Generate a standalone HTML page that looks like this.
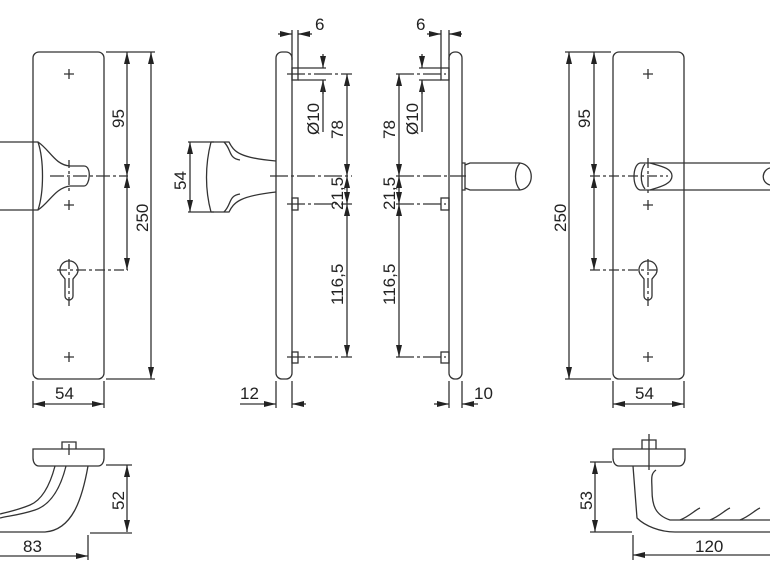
<!DOCTYPE html>
<html><head><meta charset="utf-8"><style>
html,body{margin:0;padding:0;background:#fff;}
svg{display:block;}
text{font-family:"Liberation Sans",sans-serif;font-size:17px;fill:#222;}
</style></head><body>
<svg width="770" height="578" viewBox="0 0 770 578" xmlns="http://www.w3.org/2000/svg">
<defs>
<marker id="a" viewBox="0 0 12 6" refX="12" refY="3" markerWidth="12" markerHeight="6" orient="auto-start-reverse" markerUnits="userSpaceOnUse">
<path d="M0,0 L12,3 L0,6z" fill="#222"/></marker>
</defs>
<g fill="none" stroke="#333" stroke-width="1.3">
<!-- LEFT FRONT PLATE -->
<rect x="33" y="52" width="71" height="327" rx="6"/>
<path d="M64,74h10M69,69v10 M64,205h10M69,200v10 M64,357h10M69,352v10"/>
<path d="M0,142 H38 C50,150 55,165 70,166 H84 C92,166 90,186 84,186 H70 C55,188 50,202 38,210 H0"/>
<path d="M38,142 C44,160 44,192 38,210"/>
<path d="M50,176 H128" stroke-dasharray="14,3,3,3"/>
<path d="M69,160 V192" stroke-dasharray="8,3,3,3"/>
<path d="M61,274 a9,9 0 1 1 16,0 L73,279 V296 a4,4 0 0 1 -8,0 V279 Z"/>
<path d="M69,259 V306 M57,270 H128" stroke-dasharray="10,3,3,3"/>
<path d="M106,52 H155 M106,379 H155"/>
<path d="M127,52 V176" marker-start="url(#a)" marker-end="url(#a)"/>
<path d="M127,176 V270" marker-start="url(#a)" marker-end="url(#a)"/>
<path d="M151,52 V379" marker-start="url(#a)" marker-end="url(#a)"/>
<path d="M33,381 V408 M104,381 V408"/>
<path d="M33,404 H104" marker-start="url(#a)" marker-end="url(#a)"/>

<!-- SIDE VIEW 1 -->
<rect x="276" y="52" width="16" height="327" rx="6"/>
<rect x="292" y="68" width="6" height="12"/>
<rect x="292" y="198" width="6" height="12"/>
<rect x="292" y="352" width="6" height="11"/>
<path d="M211,142 H229 C234,152 240,158 276,161 M211,212 H229 C234,202 240,196 276,192 M211,142 C205,165 205,190 211,212"/>
<path d="M224,142 C232,150 228,158 240,160 M224,212 C232,204 228,196 240,194"/>
<path d="M188,142 H214 M188,212 H214"/>
<path d="M190,142 V212" marker-start="url(#a)" marker-end="url(#a)"/>
<path d="M270,176 H352 M287,204 H352 M287,357 H352 M287,74 H352" stroke-dasharray="18,3,3,3"/>
<path d="M292,30 V60 M298,30 V68"/>
<path d="M278,34 H292" marker-end="url(#a)"/><path d="M312,34 H298" marker-end="url(#a)"/>
<path d="M298,68 H326 M298,80 H326"/>
<path d="M323,54 V68" marker-end="url(#a)"/><path d="M323,94 V80" marker-end="url(#a)"/>
<path d="M323,80 V132"/>
<path d="M347,74 V176" marker-start="url(#a)" marker-end="url(#a)"/>
<path d="M347,176 V204" marker-start="url(#a)" marker-end="url(#a)"/>
<path d="M347,204 V357" marker-start="url(#a)" marker-end="url(#a)"/>
<path d="M276,381 V408 M292,381 V408"/>
<path d="M240,404 H276" marker-end="url(#a)"/><path d="M306,404 H292" marker-end="url(#a)"/>

<!-- SIDE VIEW 2 -->
<rect x="449" y="52" width="13" height="327" rx="6"/>
<rect x="441" y="68" width="8" height="12"/>
<rect x="441" y="198" width="8" height="12"/>
<rect x="441" y="352" width="8" height="11"/>
<path d="M462,163 H465 V190 H462 M465,165 L470,163 H520 C535,165 535,188 520,190 H470 L465,188"/>
<path d="M520,163 C514,170 514,183 520,190"/>
<path d="M396,176 H466 M396,204 H446 M396,357 H446 M396,74 H446" stroke-dasharray="18,3,3,3"/>
<path d="M441,30 V68 M449,30 V60"/>
<path d="M427,34 H441" marker-end="url(#a)"/><path d="M462,34 H449" marker-end="url(#a)"/>
<path d="M419,68 H441 M419,80 H441"/>
<path d="M422,54 V68" marker-end="url(#a)"/><path d="M422,94 V80" marker-end="url(#a)"/>
<path d="M422,80 V132"/>
<path d="M399,74 V176" marker-start="url(#a)" marker-end="url(#a)"/>
<path d="M399,176 V204" marker-start="url(#a)" marker-end="url(#a)"/>
<path d="M399,204 V357" marker-start="url(#a)" marker-end="url(#a)"/>
<path d="M449,381 V408 M462,381 V408"/>
<path d="M434,404 H449" marker-end="url(#a)"/><path d="M478,404 H462" marker-end="url(#a)"/>

<!-- RIGHT FRONT PLATE -->
<rect x="613" y="52" width="71" height="327" rx="6"/>
<path d="M643,74h10M648,69v10 M643,205h10M648,200v10 M643,357h10M648,352v10"/>
<path d="M640,163 C632,165 632,188 640,190 H650 L655,190 H770 M640,163 H655 L660,163 H770"/>
<path d="M650,163 C660,166 672,168 672,176 C672,184 660,187 650,190"/>
<path d="M645,164 C640,170 640,183 645,189"/>
<path d="M770,168 C762,170 760,182 770,185"/>
<path d="M590,176 H668 M648,158 V196" stroke-dasharray="10,3,3,3"/>
<path d="M640,274 a9,9 0 1 1 16,0 L652,279 V296 a4,4 0 0 1 -8,0 V279 Z"/>
<path d="M648,259 V306 M590,270 H660" stroke-dasharray="10,3,3,3"/>
<path d="M565,52 H611 M565,379 H611"/>
<path d="M594,52 V176" marker-start="url(#a)" marker-end="url(#a)"/>
<path d="M594,176 V270" marker-start="url(#a)" marker-end="url(#a)"/>
<path d="M569,52 V379" marker-start="url(#a)" marker-end="url(#a)"/>
<path d="M613,381 V408 M684,381 V408"/>
<path d="M613,404 H684" marker-start="url(#a)" marker-end="url(#a)"/>

<!-- BOTTOM LEFT -->
<path d="M33,449 H104 V458 C104,462 102,466 98,466 H39 C35,466 33,462 33,458 Z"/>
<path d="M62,449 V442 H76 V449 M69,444 V455"/>
<path d="M88,466 C82,500 72,530 45,532 H0"/>
<path d="M66,466 C60,490 50,505 35,510 C20,515 8,516 0,518"/>
<path d="M55,466 C50,485 42,500 30,505 C18,510 8,512 0,514"/>
<path d="M106,465 H132 M90,533 H132"/>
<path d="M127,465 V532" marker-start="url(#a)" marker-end="url(#a)"/>
<path d="M88,535 V560"/>
<path d="M0,556 H88" marker-end="url(#a)"/>

<!-- BOTTOM RIGHT -->
<path d="M613,449 H685 V458 C685,462 683,466 679,466 H619 C615,466 613,462 613,458 Z"/>
<path d="M642,449 V440 H656 V449 M649,434 V470"/>
<path d="M633,466 L637,518 C645,526 660,532 675,532 H770"/>
<path d="M656,470 C650,474 652,480 652,490 C652,505 655,515 670,520 H770"/>
<path d="M680,520 C690,516 695,510 700,508 M710,520 C720,516 725,510 730,508 M740,520 C750,516 755,510 760,508"/>
<path d="M590,462 H612 M590,532 H632"/>
<path d="M595,462 V532" marker-start="url(#a)" marker-end="url(#a)"/>
<path d="M633,535 V560"/>
<path d="M770,555 H633" marker-end="url(#a)"/>
</g>
<g>
<text x="0" y="0" transform="translate(124,128) rotate(-90)">95</text>
<text x="0" y="0" transform="translate(148,232) rotate(-90)">250</text>
<text x="55" y="399">54</text>
<text x="0" y="0" transform="translate(186,190) rotate(-90)">54</text>
<text x="315" y="30">6</text>
<text x="0" y="0" transform="translate(319,135) rotate(-90)">Ø10</text>
<text x="0" y="0" transform="translate(343,139) rotate(-90)">78</text>
<text x="0" y="0" transform="translate(343,210) rotate(-90)">21,5</text>
<text x="0" y="0" transform="translate(343,305) rotate(-90)">116,5</text>
<text x="240" y="399">12</text>
<text x="416" y="30">6</text>
<text x="0" y="0" transform="translate(418,135) rotate(-90)">Ø10</text>
<text x="0" y="0" transform="translate(395,139) rotate(-90)">78</text>
<text x="0" y="0" transform="translate(395,210) rotate(-90)">21,5</text>
<text x="0" y="0" transform="translate(395,305) rotate(-90)">116,5</text>
<text x="474" y="399">10</text>
<text x="0" y="0" transform="translate(590,128) rotate(-90)">95</text>
<text x="0" y="0" transform="translate(566,232) rotate(-90)">250</text>
<text x="635" y="399">54</text>
<text x="0" y="0" transform="translate(124,510) rotate(-90)">52</text>
<text x="23" y="552">83</text>
<text x="0" y="0" transform="translate(592,510) rotate(-90)">53</text>
<text x="695" y="552">120</text>
</g>
</svg>
</body></html>
